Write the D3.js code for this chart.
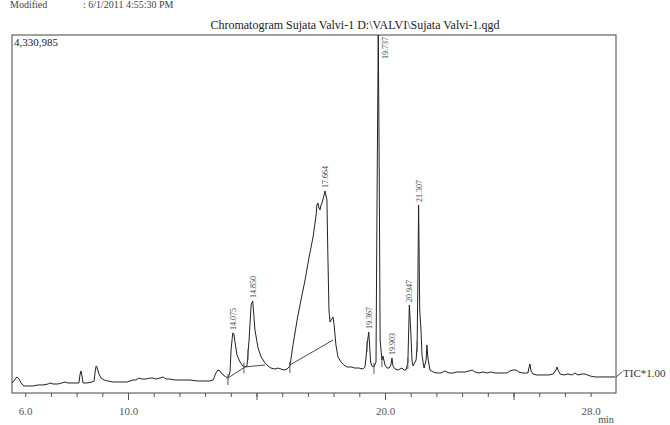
<!DOCTYPE html>
<html>
<head>
<meta charset="utf-8">
<script src="https://cdn.jsdelivr.net/npm/d3@7"></script>
<style>
  body { margin: 0; background: #fff; }
  text { font-family: "Liberation Serif", "DejaVu Serif", serif; }
</style>
</head>
<body>
<div id="chart"></div>
<script>
// retention time (min) and total ion current
const rt = [5.49, 5.56, 5.64, 5.68, 5.76, 5.84, 5.95, 6.11, 6.30, 6.50, 6.69, 6.89, 6.96, 7.08, 7.28, 7.43, 7.55, 7.67, 7.82, 8.02,
  8.09, 8.13, 8.17, 8.21, 8.25, 8.40, 8.60, 8.68, 8.72, 8.76, 8.79, 8.87, 8.95, 9.07, 9.22, 9.42, 9.61, 9.81, 9.96, 10.08,
  10.19, 10.31, 10.43, 10.54, 10.70, 10.86, 10.97, 11.09, 11.25, 11.36, 11.48, 11.63, 11.83, 12.10, 12.41, 12.72, 13.00, 13.19, 13.31, 13.42,
  13.50, 13.58, 13.70, 13.81, 13.89, 13.97, 14.01, 14.075, 14.12, 14.18, 14.24, 14.36, 14.47, 14.55, 14.63, 14.71, 14.79, 14.85, 14.88, 14.94,
  15.06, 15.18, 15.33, 15.45, 15.56, 15.72, 15.84, 15.95, 16.07, 16.19, 16.30, 16.42, 16.58, 16.73, 16.89, 17.04, 17.20, 17.32, 17.35, 17.39,
  17.43, 17.47, 17.51, 17.55, 17.63, 17.664, 17.74, 17.78, 17.82, 17.86, 17.90, 17.98, 18.02, 18.09, 18.17, 18.29, 18.40, 18.52, 18.68, 18.83,
  18.99, 19.14, 19.22, 19.26, 19.30, 19.367, 19.40, 19.44, 19.49, 19.57, 19.65, 19.69, 19.737, 19.77, 19.81, 19.88, 19.92, 20.00, 20.08, 20.16,
  20.23, 20.27, 20.31, 20.39, 20.51, 20.58, 20.66, 20.74, 20.82, 20.89, 20.947, 21.00, 21.05, 21.09, 21.17, 21.21, 21.25, 21.28, 21.307, 21.35,
  21.40, 21.44, 21.48, 21.52, 21.60, 21.63, 21.67, 21.75, 21.87, 22.02, 22.18, 22.33, 22.49, 22.65, 22.80, 22.96, 23.11, 23.27, 23.39, 23.50,
  23.66, 23.81, 23.97, 24.12, 24.28, 24.44, 24.59, 24.75, 24.86, 24.98, 25.10, 25.21, 25.33, 25.45, 25.56, 25.60, 25.64, 25.68, 25.76, 25.91,
  26.07, 26.23, 26.38, 26.54, 26.65, 26.69, 26.73, 26.81, 26.96, 27.12, 27.28, 27.39, 27.51, 27.67, 27.78, 27.98, 28.17, 28.37, 28.56, 28.75,
  28.95]
const tic = [121000, 145000, 181000, 194000, 169000, 121000, 85000, 85000, 85000, 97000, 97000, 109000, 121000, 109000, 109000, 121000, 133000, 121000, 121000, 121000,
  121000, 218000, 266000, 206000, 121000, 121000, 133000, 145000, 254000, 327000, 315000, 230000, 181000, 157000, 145000, 133000, 133000, 133000, 133000, 145000,
  157000, 157000, 181000, 169000, 169000, 181000, 181000, 169000, 181000, 194000, 169000, 169000, 157000, 157000, 157000, 145000, 145000, 145000, 157000, 242000,
  278000, 266000, 218000, 194000, 181000, 254000, 520000, 726000, 714000, 581000, 460000, 375000, 327000, 315000, 327000, 641000, 1065000, 1113000, 1004000, 762000,
  544000, 436000, 363000, 327000, 302000, 290000, 302000, 290000, 278000, 290000, 327000, 581000, 883000, 1125000, 1367000, 1633000, 1887000, 2153000, 2274000, 2299000,
  2238000, 2214000, 2274000, 2299000, 2395000, 2444000, 2335000, 1609000, 1004000, 859000, 883000, 919000, 823000, 581000, 436000, 375000, 339000, 315000, 315000, 302000,
  302000, 290000, 315000, 423000, 581000, 738000, 581000, 375000, 327000, 315000, 375000, 2335000, 4330985, 2940000, 641000, 399000, 448000, 339000, 302000, 302000,
  339000, 423000, 327000, 290000, 278000, 290000, 302000, 278000, 278000, 375000, 1065000, 762000, 399000, 327000, 375000, 399000, 581000, 1367000, 2274000, 1004000,
  762000, 460000, 375000, 302000, 399000, 581000, 423000, 278000, 254000, 242000, 242000, 266000, 242000, 242000, 254000, 254000, 254000, 266000, 278000, 254000,
  242000, 254000, 242000, 254000, 242000, 242000, 242000, 242000, 266000, 278000, 278000, 254000, 242000, 242000, 242000, 302000, 351000, 266000, 230000, 218000,
  218000, 218000, 218000, 230000, 278000, 315000, 278000, 230000, 218000, 230000, 218000, 242000, 218000, 230000, 230000, 206000, 194000, 194000, 194000, 194000,
  194000]

// labelled peaks: where they sit, and the text printed over them
const peakRt = [14.075, 14.85, 17.664, 19.367, 19.737, 20.27, 20.947, 21.307]
const peakNames = ["14.075", "14.850", "17.664", "19.367", "19.737", "19.903", "20.947", "21.307"]

// integration baselines drawn under peaks
const baseStart = [[13.89, 181000], [14.55, 315000], [16.30, 339000]]
const baseEnd = [[14.55, 315000], [15.33, 339000], [17.98, 641000]]

// peak start / end marks
const markRt = [13.89, 14.51, 14.67, 16.30, 19.30, 19.57, 19.88, 20.89, 21.25]

const tickMinor = d3.range(6, 29)
const tickMajor = [10, 15, 20, 25]
const tickLabels = [6, 10, 20, 28]
const maxTic = 4330985

let svg_width = 670
let svg_height = 425
var margin = { top: 35, right: 54, bottom: 32, left: 12 },
    width = svg_width - margin.left - margin.right,
    height = svg_height - margin.top - margin.bottom;

var root = d3.select("#chart").append("svg")
    .attr("width", svg_width)
    .attr("height", svg_height)

// header line at the very top of the page
root.append("text").attr("x", 10).attr("y", 8).attr("font-size", 10).attr("fill", "#444").text("Modified")
root.append("text").attr("x", 83).attr("y", 8).attr("font-size", 10).attr("fill", "#444").text(": 6/1/2011 4:55:30 PM")

root.append("text")
    .attr("x", 355).attr("y", 29)
    .attr("text-anchor", "middle")
    .attr("font-size", 12)
    .attr("fill", "#222")
    .text("Chromatogram Sujata Valvi-1 D:\\VALVI\\Sujata Valvi-1.qgd")

var svg = root.append("g")
    .attr("transform", "translate(" + margin.left + "," + margin.top + ")");

var xScale = d3.scaleLinear().domain([5.486, 28.988]).range([0, width])
var yScale = d3.scaleLinear().domain([0, maxTic]).range([height, 0])

// ticks
svg.append("g")
    .attr("transform", "translate(0," + height + ")")
    .call(d3.axisBottom(xScale).tickValues(tickMinor).tickSize(4).tickFormat(""))
    .call(g => g.select(".domain").remove())
    .call(g => g.selectAll("line").attr("stroke", "#555"))
svg.append("g")
    .attr("transform", "translate(0," + height + ")")
    .call(d3.axisBottom(xScale).tickValues(tickMajor).tickSize(7).tickFormat(""))
    .call(g => g.select(".domain").remove())
    .call(g => g.selectAll("line").attr("stroke", "#555"))
svg.append("g")
    .attr("transform", "translate(0," + height + ")")
    .call(d3.axisBottom(xScale).tickValues(tickLabels).tickSize(0).tickPadding(14).tickFormat(d3.format(".1f")))
    .call(g => g.select(".domain").remove())
    .call(g => g.selectAll("text").attr("font-size", 11).attr("fill", "#555")
        .attr("font-family", "Liberation Serif, serif"))

svg.append("text")
    .attr("x", xScale(28.3)).attr("y", height + 30)
    .attr("font-size", 10).attr("fill", "#444").text("min")

// frame
svg.append("rect")
    .attr("width", width).attr("height", height)
    .attr("fill", "none").attr("stroke", "#444").attr("stroke-width", 1)

svg.append("text")
    .attr("x", 2).attr("y", 11)
    .attr("font-size", 11).attr("fill", "#222")
    .text(d3.format(",")(maxTic))

// trace
var idx = d3.range(rt.length)
var line = d3.line().x(i => xScale(rt[i])).y(i => yScale(tic[i]))
svg.append("path")
    .datum(idx)
    .attr("d", line)
    .attr("fill", "none")
    .attr("stroke", "#222")
    .attr("stroke-width", 1)
    .attr("stroke-linejoin", "round")

function ticAt(t) {
    let i = d3.bisectLeft(rt, t)
    if (i <= 0) return tic[0]
    if (i >= rt.length) return tic[rt.length - 1]
    let f = (t - rt[i - 1]) / (rt[i] - rt[i - 1])
    return tic[i - 1] + f * (tic[i] - tic[i - 1])
}

// baselines
svg.append("g").selectAll("line").data(d3.range(baseStart.length))
    .enter().append("line")
    .attr("x1", i => xScale(baseStart[i][0])).attr("y1", i => yScale(baseStart[i][1]))
    .attr("x2", i => xScale(baseEnd[i][0])).attr("y2", i => yScale(baseEnd[i][1]))
    .attr("stroke", "#333").attr("stroke-width", 0.9)

// start/end marks
svg.append("g").selectAll("line").data(markRt)
    .enter().append("line")
    .attr("x1", d => xScale(d)).attr("x2", d => xScale(d))
    .attr("y1", d => yScale(ticAt(d)) - 4)
    .attr("y2", d => yScale(ticAt(d)) + 7)
    .attr("stroke", "#555").attr("stroke-width", 1)

// peak labels, printed sideways
svg.append("g").selectAll("text").data(d3.range(peakRt.length))
    .enter().append("text")
    .attr("font-size", 8)
    .attr("fill", "#444")
    .attr("text-anchor", i => yScale(ticAt(peakRt[i])) < 40 ? "end" : "start")
    .attr("transform", i => {
        let px = xScale(peakRt[i]), py = yScale(ticAt(peakRt[i]))
        if (py < 40) return "translate(" + (px + 10) + ",2) rotate(-90)"
        return "translate(" + (px + 3) + "," + (py - 3) + ") rotate(-90)"
    })
    .text(i => peakNames[i])

// TIC label
svg.append("line")
    .attr("x1", width).attr("y1", yScale(tic[tic.length - 1]))
    .attr("x2", width + 6).attr("y2", yScale(tic[tic.length - 1]) - 5)
    .attr("stroke", "#444")
svg.append("text")
    .attr("x", width + 7).attr("y", yScale(tic[tic.length - 1]))
    .attr("font-size", 11).attr("fill", "#333")
    .text("TIC*1.00")
</script>
</body>
</html>
